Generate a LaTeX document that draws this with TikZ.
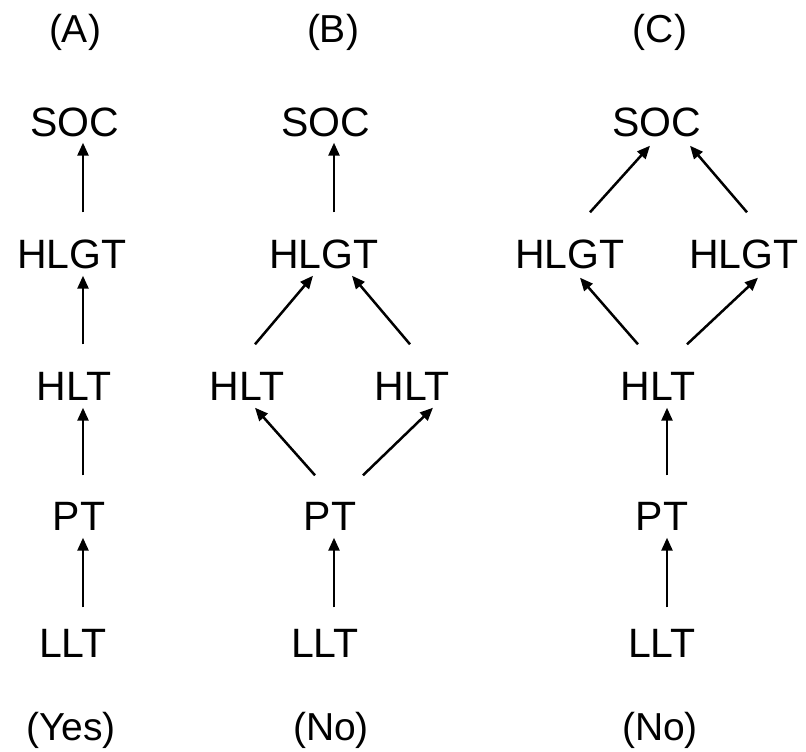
\documentclass[tikz,border=0pt]{standalone}
\usepackage{fontspec}
\setmainfont{Liberation Sans}
\usetikzlibrary{arrows.meta,calc}
\begin{document}
\begin{tikzpicture}[x=1pt,y=-1pt,
  term/.style={inner sep=0pt,text height=29pt,text depth=0pt,font=\fontsize{41}{49}\selectfont},
  tag/.style={inner sep=0pt,text height=28pt,text depth=0pt,font=\fontsize{39}{47}\selectfont},
  arr/.style={line width=2.5pt,-{Triangle[length=13pt 0 0,width=11pt 0 0]}}]
\useasboundingbox (0,0) rectangle (806,752);
\coordinate (xA) at (83,0);
\coordinate (xB) at (334,0);
\coordinate (xC) at (667,0);
% column A
\node[tag]  (labA)  at (75,29)   {(A)};
\node[term] (socA)  at (75,122)  {SOC};
\node[term] (hlgtA) at (72,254)  {HLGT};
\node[term] (hltA)  at (74,386)  {HLT};
\node[term] (ptA)   at (79,516)  {PT};
\node[term] (lltA)  at (73,643)  {LLT};
\node[tag]  (resA)  at (71,726)  {(Yes)};
% column B
\node[tag]  (labB)  at (333,29)  {(B)};
\node[term] (socB)  at (326,122) {SOC};
\node[term] (hlgtB) at (324,254) {HLGT};
\node[term] (hltBL) at (247,386) {HLT};
\node[term] (hltBR) at (412,386) {HLT};
\node[term] (ptB)   at (330,516) {PT};
\node[term] (lltB)  at (325,643) {LLT};
\node[tag]  (resB)  at (331,726) {(No)};
% column C
\node[tag]  (labC)  at (660,29)  {(C)};
\node[term] (socC)  at (657,122) {SOC};
\node[term] (hlgtCL) at (570,254) {HLGT};
\node[term] (hlgtCR) at (744,254) {HLGT};
\node[term] (hltC)  at (658,386) {HLT};
\node[term] (ptC)   at (662,516) {PT};
\node[term] (lltC)  at (662,643) {LLT};
\node[tag]  (resC)  at (660,726) {(No)};
% arrows A
\draw[arr] ($(hlgtA.north -| xA)+(0,-27)$) -- ($(socA.south -| xA)+(0,6)$);
\draw[arr] ($(hltA.north -| xA)+(0,-27)$) -- ($(hlgtA.south -| xA)+(0,7)$);
\draw[arr] ($(ptA.north -| xA)+(0,-26)$) -- ($(hltA.south -| xA)+(0,7)$);
\draw[arr] ($(lltA.north -| xA)+(0,-21)$) -- ($(ptA.south -| xA)+(0,7)$);
% arrows B
\draw[arr] ($(hlgtB.north -| xB)+(0,-27)$) -- ($(socB.south -| xB)+(0,6)$);
\draw[arr] ($(hltBL.north)+(8,-27)$) -- ($(hlgtB.south)+(-11,7)$);
\draw[arr] ($(hltBR.north)+(-2,-27)$) -- ($(hlgtB.south)+(28,7)$);
\draw[arr] ($(ptB.north)+(-15,-26)$) -- ($(hltBL.south)+(8,7)$);
\draw[arr] ($(ptB.north)+(33,-26)$) -- ($(hltBR.south)+(21,7)$);
\draw[arr] ($(lltB.north -| xB)+(0,-21)$) -- ($(ptB.south -| xB)+(0,7)$);
% arrows C
\draw[arr] ($(hlgtCL.north)+(20,-27)$) -- ($(socC.south)+(-7,9)$);
\draw[arr] ($(hlgtCR.north)+(3,-27)$) -- ($(socC.south)+(33,9)$);
\draw[arr] ($(hltC.north)+(-20,-27)$) -- ($(hlgtCL.south)+(10,9)$);
\draw[arr] ($(hltC.north)+(29,-27)$) -- ($(hlgtCR.south)+(14,9)$);
\draw[arr] ($(ptC.north -| xC)+(0,-26)$) -- ($(hltC.south -| xC)+(0,7)$);
\draw[arr] ($(lltC.north -| xC)+(0,-21)$) -- ($(ptC.south -| xC)+(0,7)$);
\end{tikzpicture}
\end{document}
